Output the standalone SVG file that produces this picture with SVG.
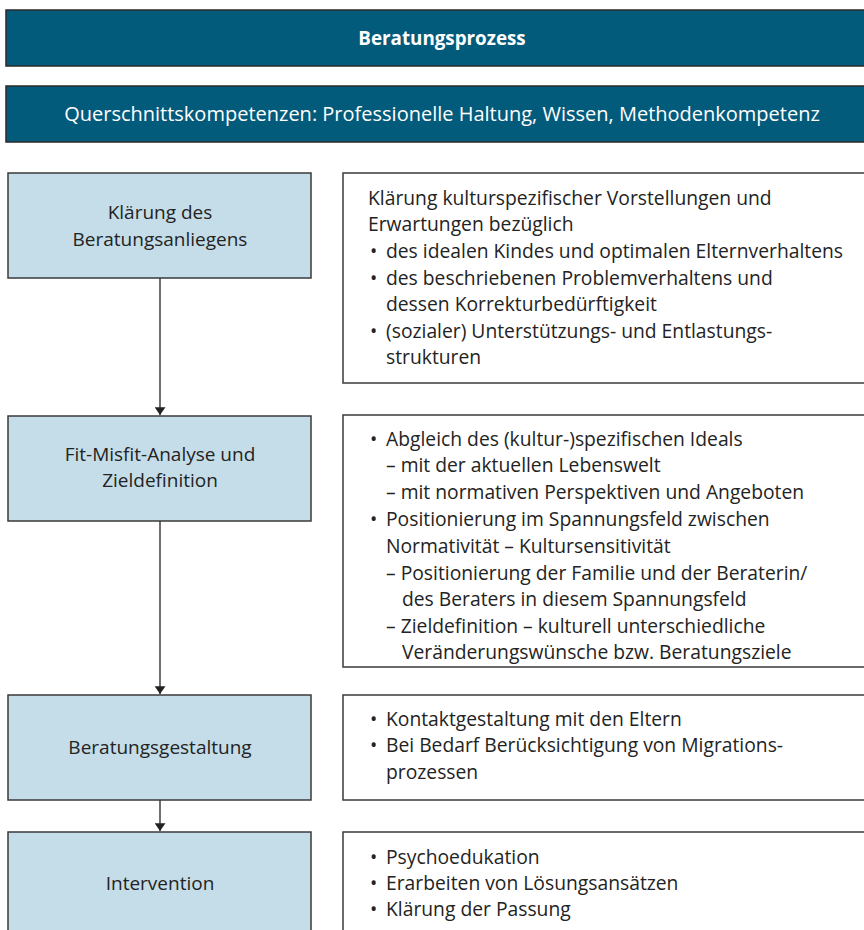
<svg xmlns="http://www.w3.org/2000/svg" width="864" height="930" viewBox="0 0 864 930">
<style>
.bar{fill:#035b7c;stroke:#2a2a2a;stroke-width:1.5}
.step{fill:#c5dde8;stroke:#3a3a3a;stroke-width:1.5}
.desc{fill:#ffffff;stroke:#3a3a3a;stroke-width:1.5}
text{font-family:"Open Sans","Noto Sans","Liberation Sans",sans-serif;fill:#232323;font-size:19.3px}
.hdr{fill:#ffffff;text-anchor:middle}
.c{text-anchor:middle;font-size:19px}
.conn{stroke:#222;stroke-width:1.3;fill:none}
</style>
<defs>
<marker id="ah" viewBox="0 0 10 14" refX="10" refY="7" markerWidth="8" markerHeight="11" markerUnits="userSpaceOnUse" orient="auto">
<path d="M0,0 L10,7 L0,14 Z" fill="#222"/>
</marker>
</defs>
<g id="title">
<rect class="bar" x="6" y="10" width="880" height="56"/>
<text class="hdr" x="442" y="45" font-weight="bold" style="font-size:18.8px">Beratungsprozess</text>
</g>
<g id="competences">
<rect class="bar" x="6" y="86" width="880" height="56"/>
<text class="hdr" x="442" y="121" style="font-size:20px">Querschnittskompetenzen: Professionelle Haltung, Wissen, Methodenkompetenz</text>
</g>
<g id="connectors">
<line class="conn" x1="160" y1="278" x2="160" y2="415" marker-end="url(#ah)"/>
<line class="conn" x1="160" y1="521" x2="160" y2="694" marker-end="url(#ah)"/>
<line class="conn" x1="160" y1="800" x2="160" y2="831" marker-end="url(#ah)"/>
</g>
<g id="step1">
<rect class="step" x="8" y="173" width="303" height="105"/>
<text class="c" x="160" y="219">Klärung des</text>
<text class="c" x="160" y="246">Beratungsanliegens</text>
</g>
<g id="desc1">
<rect class="desc" x="343" y="173" width="540" height="210"/>
<text x="368" y="205">Klärung kulturspezifischer Vorstellungen und</text>
<text x="368" y="231">Erwartungen bezüglich</text>
<text x="370" y="258">•</text><text x="386" y="258">des idealen Kindes und optimalen Elternverhaltens</text>
<text x="370" y="285">•</text><text x="386" y="285">des beschriebenen Problemverhaltens und</text>
<text x="386" y="311">dessen Korrekturbedürftigkeit</text>
<text x="370" y="338">•</text><text x="386" y="338">(sozialer) Unterstützungs- und Entlastungs-</text>
<text x="386" y="364">strukturen</text>
</g>
<g id="step2">
<rect class="step" x="8" y="416" width="303" height="105"/>
<text class="c" x="160" y="461">Fit-Misfit-Analyse und</text>
<text class="c" x="160" y="487">Zieldefinition</text>
</g>
<g id="desc2">
<rect class="desc" x="343" y="415" width="540" height="252"/>
<text x="370" y="446">•</text><text x="386" y="446">Abgleich des (kultur-)spezifischen Ideals</text>
<text x="386" y="472">– mit der aktuellen Lebenswelt</text>
<text x="386" y="499">– mit normativen Perspektiven und Angeboten</text>
<text x="370" y="526">•</text><text x="386" y="526">Positionierung im Spannungsfeld zwischen</text>
<text x="386" y="553">Normativität – Kultursensitivität</text>
<text x="386" y="580">– Positionierung der Familie und der Beraterin/</text>
<text x="402" y="606">des Beraters in diesem Spannungsfeld</text>
<text x="386" y="633">– Zieldefinition – kulturell unterschiedliche</text>
<text x="402" y="659">Veränderungswünsche bzw. Beratungsziele</text>
</g>
<g id="step3">
<rect class="step" x="8" y="695" width="303" height="105"/>
<text class="c" x="160" y="754">Beratungsgestaltung</text>
</g>
<g id="desc3">
<rect class="desc" x="343" y="695" width="540" height="105"/>
<text x="370" y="726">•</text><text x="386" y="726">Kontaktgestaltung mit den Eltern</text>
<text x="370" y="752">•</text><text x="386" y="752">Bei Bedarf Berücksichtigung von Migrations-</text>
<text x="386" y="779">prozessen</text>
</g>
<g id="step4">
<rect class="step" x="8" y="832" width="303" height="120"/>
<text class="c" x="160" y="890">Intervention</text>
</g>
<g id="desc4">
<rect class="desc" x="343" y="832" width="540" height="120"/>
<text x="370" y="864">•</text><text x="386" y="864">Psychoedukation</text>
<text x="370" y="890">•</text><text x="386" y="890">Erarbeiten von Lösungsansätzen</text>
<text x="370" y="916">•</text><text x="386" y="916">Klärung der Passung</text>
</g>
</svg>
